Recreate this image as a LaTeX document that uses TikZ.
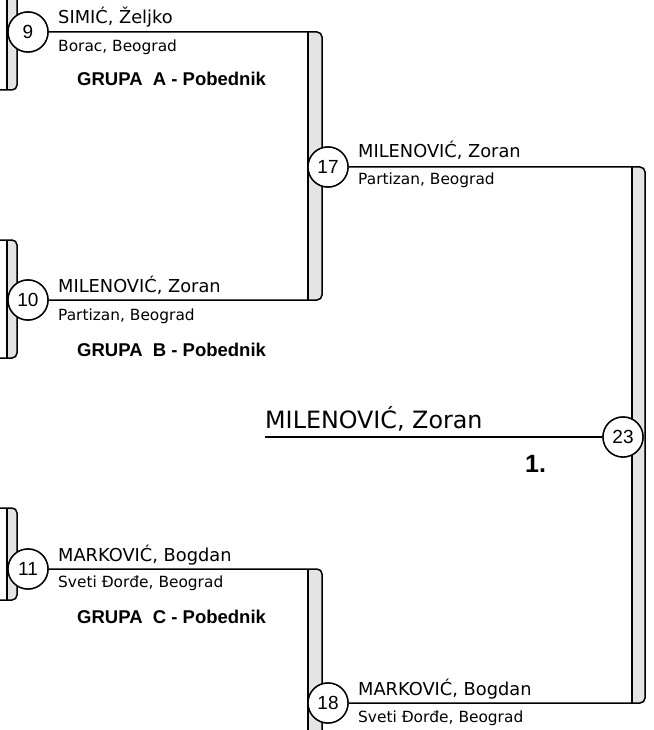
\documentclass[tikz,border=0pt]{standalone}
\usepackage{fontspec}
\setmainfont{DejaVu Sans}
\newfontfamily\libsans{Liberation Sans}
\definecolor{barfill}{HTML}{E4E4E4}
\tikzset{
  ln/.style={line width=1.5pt, draw=black},
  seed/.style={circle, draw=black, line width=1.4pt, fill=white, minimum size=40pt, inner sep=0pt,
    font=\libsans\fontsize{19}{19}\selectfont},
  pname/.style={anchor=base west, inner sep=0pt, font=\fontsize{17.8}{20}\selectfont},
  pclub/.style={anchor=base west, inner sep=0pt, font=\fontsize{15.4}{18}\selectfont},
  grp/.style={anchor=base west, inner sep=0pt, font=\libsans\bfseries\fontsize{18.5}{20}\selectfont},
}
\newcommand\barfill[4]{%
  \begin{scope}
    \clip (#1,#3) rectangle (#2+2,#4);
    \fill[barfill, rounded corners=5pt] (#1-10,#3) -- (#2,#3) -- (#2,#4) -- (#1-10,#4) -- cycle;
  \end{scope}
  \draw[ln] (#1,#3) -- (#1,#4);
}
\begin{document}
\begin{tikzpicture}[x=1pt,y=-1pt]
\useasboundingbox (0,0) rectangle (653,730);
% bar fills
\barfill{7}{17}{-20}{90}
\barfill{7}{17}{240}{358}
\barfill{7}{17}{508}{600}
\barfill{308}{322}{32}{300}
\barfill{632}{645}{167}{703}
\barfill{308}{322}{569}{760}
% previous-round bracket outlines (left edge)
\draw[ln, rounded corners=5pt] (0,-20) -- (17,-20) -- (17,90) -- (0,90);
\draw[ln, rounded corners=5pt] (0,240) -- (17,240) -- (17,358) -- (0,358);
\draw[ln, rounded corners=5pt] (0,508) -- (17,508) -- (17,600) -- (0,600);
% seed circles
\node[seed] (m9)  at (28,32)   {9};
\node[seed] (m10) at (28,300)  {10};
\node[seed] (m11) at (28,569)  {11};
\node[seed] (m17) at (328,167) {17};
\node[seed] (m18) at (328,703) {18};
\node[seed] (m23) at (623,437) {23};
% corner coordinates
\coordinate (c18b) at (322,760);
\coordinate (fin) at (265,437);
% brackets
\draw[ln, rounded corners=5pt] (m9.east) -- (322,32) -- (322,300) -- (m10.east);
\draw[ln, rounded corners=5pt] (m17.east) -- (645,167) -- (645,703) -- (m18.east);
\draw[ln, rounded corners=5pt] (m11.east) -- (322,569) -- (c18b);
\draw[ln] (fin) -- (m23.west);
% redraw circles on top
\node[seed] at (m9)  {9};
\node[seed] at (m10) {10};
\node[seed] at (m11) {11};
\node[seed] at (m17) {17};
\node[seed] at (m18) {18};
\node[seed] at (m23) {23};
% texts
\node[pname] (n9)  at (58,24)   {SIMIĆ, Željko};
\node[pclub] (k9)  at (58,52)   {Borac, Beograd};
\node[grp]   (gA)  at (77,86)   {GRUPA\ \ A - Pobednik};
\node[pname] (n10) at (58,292)  {MILENOVIĆ, Zoran};
\node[pclub] (k10) at (58,320)  {Partizan, Beograd};
\node[grp]   (gB)  at (77,356)  {GRUPA\ \ B - Pobednik};
\node[pname] (n11) at (58,561)  {MARKOVIĆ, Bogdan};
\node[pclub] (k11) at (58,587)  {Sveti Đorđe, Beograd};
\node[grp]   (gC)  at (77,623)  {GRUPA\ \ C - Pobednik};
\node[pname] (n17) at (358,158) {MILENOVIĆ, Zoran};
\node[pclub] (k17) at (358,185) {Partizan, Beograd};
\node[pname] (n18) at (358,695) {MARKOVIĆ, Bogdan};
\node[pclub] (k18) at (358,722) {Sveti Đorđe, Beograd};
\node[anchor=base west, inner sep=0pt, font=\fontsize{23.8}{26}\selectfont] (nf) at (265,428) {MILENOVIĆ, Zoran};
\node[anchor=base west, inner sep=0pt, font=\libsans\bfseries\fontsize{25}{27}\selectfont] (pl) at (525,472) {1.};
\end{tikzpicture}
\end{document}
